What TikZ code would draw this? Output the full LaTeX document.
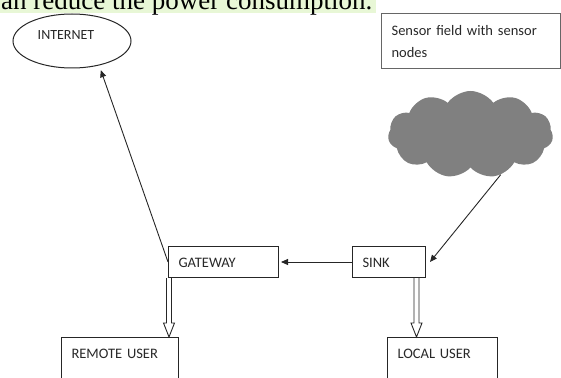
\documentclass[tikz,border=0pt]{standalone}
\usepackage{fontspec}
\setmainfont{Carlito}
\newfontfamily\capfont{Liberation Serif}
\usetikzlibrary{shapes.geometric,shapes.symbols,arrows.meta,calc}
\definecolor{hl}{RGB}{232,247,214}
\definecolor{cloudgray}{RGB}{128,128,128}
\definecolor{txt}{RGB}{40,40,40}
\newcommand\myblockarrow[2]{%
  \draw[blk] let \p1=(#1), \p2=(#2) in
    (\x1-2.5pt,\y1) -- (\x1-2.5pt,\y2+14pt) -- (\x1-5.5pt,\y2+14pt) -- (\x1,\y2)
    -- (\x1+5.5pt,\y2+14pt) -- (\x1+2.5pt,\y2+14pt) -- (\x1+2.5pt,\y1);}
\begin{document}
\begin{tikzpicture}[x=1pt,y=-1pt,
  box/.style={draw=black!85, line width=1pt, rectangle, anchor=north west,
    inner xsep=10pt, inner ysep=0pt, align=left,
    font=\fontsize{14.5}{22}\selectfont, text=txt},
  arr/.style={draw=black!85, line width=0.9pt, -{Triangle[length=7pt,width=6pt]}},
  blk/.style={draw=black!85, line width=0.9pt, line join=miter},
]
\useasboundingbox (0,0) rectangle (561,377);
\clip (0,0) rectangle (561,377);
% top caption fragment
\fill[hl] (0,0) rectangle (376,13);
\node[anchor=base west, inner sep=0, font=\capfont\fontsize{27}{27}\selectfont] (cap) at (1,9.5) {an reduce the power consumption.};
% internet
\node[ellipse, draw=black!85, line width=1pt, minimum width=118pt, minimum height=54pt,
  inner sep=0, font=\fontsize{14}{14}\selectfont, text=txt, text height=9pt, text depth=12pt] (inet) at (72,41) {INTERNET\kern12pt};
% sensor field label
\node[box, draw=black!60, line width=1.2pt, text width=159pt, text height=22pt, text depth=33pt] (sf) at (381,13) {Sensor field with sensor\\nodes};
% cloud
\node[cloud, cloud puffs=11, cloud puff arc=110, cloud ignores aspect, minimum width=165pt, minimum height=87pt,
  fill=cloudgray, draw=none, inner sep=0] (cloud) at (470.5,134.5) {};
% boxes
\node[box, text width=90pt, text height=21pt, text depth=10pt] (gw) at (168,246) {GATEWAY};
\node[box, text width=53pt, text height=21pt, text depth=10pt] (sink) at (352,246) {SINK};
\node[box, text width=97pt, text height=20.5pt, text depth=50pt] (ru) at (61,337) {REMOTE USER};
\node[box, text width=90pt, text height=20.5pt, text depth=50pt] (lu) at (387,337) {LOCAL USER};
% connectors
\draw[arr, shorten >=5pt] (gw.west) -- (inet.-42);
\draw[arr] (sink.west) -- ($(gw.east)+(2,0)$);
\draw[arr] (cloud.-53) -- ($(sink.east)+(4,0)$);
\myblockarrow{$(gw.south west)+(1,0)$}{ru.north}
\myblockarrow{$(sink.south east)+(-9.5,0)$}{lu.north}
\end{tikzpicture}
\end{document}
